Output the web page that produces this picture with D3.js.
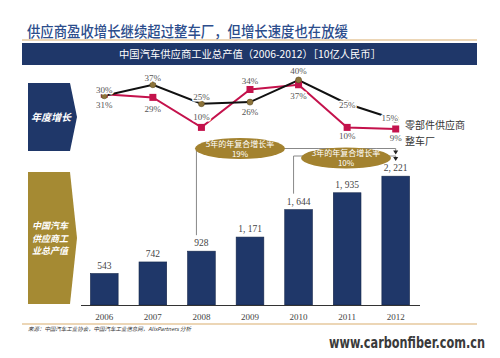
<!DOCTYPE html>
<html><head><meta charset="utf-8">
<script src="https://cdn.jsdelivr.net/npm/d3@7"></script>
<style>body{margin:0;background:#fff}svg{display:block}</style>
</head><body>
<script>
const years = ["2006","2007","2008","2009","2010","2011","2012"];
const output = [543, 742, 928, 1171, 1644, 1935, 2221];
const supplierGrowth = [30, 37, 25, 26, 40, 25, 15];
const oemGrowth = [31, 29, 10, 34, 37, 10, 9];
const seriesNames = ["零部件供应商", "整车厂"];
const cagr5 = ["5年的年复合增长率", "19%"];
const cagr3 = ["3年的年复合增长率", "10%"];

const W = 500, H = 358;
const svg = d3.select("body").append("svg").attr("width", W).attr("height", H);
const navy = "#1f3769", gold = "#a58a33", red = "#c4124c";
const serif = "'Liberation Serif','DejaVu Serif',serif";
const cjk = "'Noto Sans CJK SC',sans-serif";

// Title
svg.append("text").attr("x", 27).attr("y", 37).text("供应商盈收增长继续超过整车厂，但增长速度也在放缓")
  .attr("font-family", cjk).attr("font-size", 15).attr("font-weight", 500).attr("fill", "#2c4d8c")
  .attr("textLength", 321).attr("lengthAdjust", "spacingAndGlyphs");
svg.append("line").attr("x1", 22).attr("x2", 477).attr("y1", 40).attr("y2", 40).attr("stroke", "#d9ad6f").attr("stroke-width", 1.2);
svg.append("rect").attr("x", 22).attr("y", 43).attr("width", 455).attr("height", 22).attr("fill", navy);
svg.append("text").attr("x", 250).attr("y", 58).attr("text-anchor", "middle")
  .text("中国汽车供应商工业总产值（2006-2012）［10亿人民币］")
  .attr("font-family", cjk).attr("font-size", 10.5).attr("fill", "#fff")
  .attr("textLength", 262).attr("lengthAdjust", "spacingAndGlyphs");

// Pentagons
function pent(x0, y0, x1, y1, tip) {
  const ym = (y0 + y1) / 2;
  return `M${x0},${y0}L${x1},${y0}L${tip},${ym}L${x1},${y1}L${x0},${y1}Z`;
}
svg.append("path").attr("d", pent(28, 83, 70, 151, 77)).attr("fill", navy);
svg.append("text").attr("x", 51).attr("y", 121).attr("text-anchor", "middle").text("年度增长")
  .attr("font-family", cjk).attr("font-size", 10).attr("font-weight", 700).attr("font-style", "italic").attr("fill", "#fff");
svg.append("path").attr("d", pent(28, 172, 70, 304, 77)).attr("fill", gold);
["中国汽车", "供应商工", "业总产值"].forEach((t, i) => {
  svg.append("text").attr("x", 50).attr("y", 229 + i * 12.5).attr("text-anchor", "middle").text(t)
    .attr("font-family", cjk).attr("font-size", 9).attr("font-weight", 700).attr("font-style", "italic").attr("fill", "#fff");
});

// Scales
const x = d3.scaleBand().domain(years).range([80, 420]).paddingInner(0.43).paddingOuter(0.215);
const cx = d => x(d) + x.bandwidth() / 2;
const yBar = d3.scaleLinear().domain([0, 2500]).range([305, 160]);
const yLine = d3.scaleLinear().domain([0, 40]).range([143.2, 80]);

// Bars
svg.append("g").selectAll("rect").data(years).join("rect")
  .attr("x", d => x(d)).attr("width", x.bandwidth())
  .attr("y", (d, i) => yBar(output[i])).attr("height", (d, i) => yBar(0) - yBar(output[i]))
  .attr("fill", navy).attr("stroke", "#14264a").attr("stroke-width", 0.6);
const fmt = v => d3.format(",")(v).replace(",", ", ");
svg.append("g").selectAll("text").data(years).join("text")
  .attr("x", d => cx(d)).attr("y", (d, i) => yBar(output[i]) - 5).attr("text-anchor", "middle")
  .text((d, i) => fmt(output[i])).attr("font-family", serif).attr("font-size", 9.5).attr("fill", "#444");

// Axis
const ax = svg.append("g").attr("transform", "translate(0,305)").call(d3.axisBottom(x).tickSize(0).tickPadding(9));
ax.select(".domain").attr("stroke", "#333").attr("d", "M81,0.5H420");
ax.selectAll("text").attr("font-family", serif).attr("font-size", 9).attr("fill", "#444");

// Brackets
const bg = svg.append("g").attr("stroke", "#888").attr("fill", "none").attr("stroke-width", 1);
const x08 = cx("2008") - 5, x10 = cx("2010") - 5, x12 = cx("2012");
bg.append("path").attr("d", `M${x08},${yBar(output[2]) - 16}V148.5H${x12}V153`);
bg.append("path").attr("d", `M${x10},${yBar(output[4]) - 16}V156H${x12}V159`);
const ah = svg.append("g").attr("fill", "#222");
[[x12, 153.5], [x12, 160]].forEach(([ax0, ay]) => {
  ah.append("path").attr("d", `M${ax0 - 2.5},${ay - 3}L${ax0 + 2.5},${ay - 3}L${ax0},${ay + 1}Z`);
});
function ellipse(cxp, cyp, lines) {
  svg.append("ellipse").attr("cx", cxp).attr("cy", cyp).attr("rx", 45).attr("ry", 10.5).attr("fill", "#a3822f");
  lines.forEach((t, i) => svg.append("text").attr("x", cxp).attr("y", cyp - 2 + i * 10).attr("text-anchor", "middle")
    .text(t).attr("font-family", cjk).attr("font-size", 8).attr("fill", "#fff"));
}
ellipse(240, 148.5, cagr5);
ellipse(346, 158, cagr3);

// Lines
const line = d3.line().x((d, i) => cx(years[i])).y(d => yLine(d));
svg.append("path").datum(oemGrowth).attr("d", line).attr("fill", "none").attr("stroke", red).attr("stroke-width", 2);
svg.append("path").datum(supplierGrowth).attr("d", line).attr("fill", "none").attr("stroke", "#111").attr("stroke-width", 2);
svg.append("g").selectAll("rect").data(oemGrowth).join("rect")
  .attr("x", (d, i) => cx(years[i]) - 3.5).attr("y", d => yLine(d) - 3.5).attr("width", 7).attr("height", 7).attr("fill", red);
svg.append("g").selectAll("circle").data(supplierGrowth).join("circle")
  .attr("cx", (d, i) => cx(years[i])).attr("cy", d => yLine(d)).attr("r", 3).attr("fill", "#8c733a").attr("stroke", "#5b4a22").attr("stroke-width", 0.6);

// Line labels (offset: negative above, positive below)
const supOff = [-3, -4, -4, 13, -6, 4, 1];
const oemOff = [14, 15, -7, -5, 14, 12, 12];
function labels(data, off) {
  svg.append("g").selectAll("text").data(data).join("text")
    .attr("x", (d, i) => cx(years[i]) + (i === 6 && data === supplierGrowth ? -6 : 0))
    .attr("y", (d, i) => yLine(d) + off[i]).attr("text-anchor", "middle")
    .text(d => d + "%").attr("font-family", serif).attr("font-size", 9).attr("fill", "#555")
    .attr("stroke", "#fff").attr("stroke-width", 3).attr("paint-order", "stroke").attr("stroke-linejoin", "round");
}
labels(supplierGrowth, supOff);
labels(oemGrowth, oemOff);

// Legend
seriesNames.forEach((t, i) => svg.append("text").attr("x", 405).attr("y", 129 + i * 16).text(t)
  .attr("font-family", cjk).attr("font-size", 10).attr("fill", "#333"));

// Footer
svg.append("line").attr("x1", 22).attr("x2", 477).attr("y1", 324).attr("y2", 324).attr("stroke", "#d9ad6f").attr("stroke-width", 1.2);
svg.append("text").attr("x", 28).attr("y", 331).text("来源：中国汽车工业协会，中国汽车工业信息网，AlixPartners 分析")
  .attr("font-family", cjk).attr("font-size", 5.5).attr("font-style", "italic").attr("fill", "#333")
  .attr("textLength", 163).attr("lengthAdjust", "spacingAndGlyphs");
const wm = svg.append("text").attr("x", 0).attr("y", 0).attr("text-anchor", "end").text("www.carbonfiber.com.cn")
  .attr("font-family", "'DejaVu Sans Condensed','Liberation Sans Narrow',sans-serif").attr("font-size", 16).attr("font-weight", 700).attr("fill", "#3a3a3a");
const wmW = wm.node().getComputedTextLength();
wm.attr("transform", `translate(485,348) scale(${156 / wmW},1)`);
</script>
</body></html>
